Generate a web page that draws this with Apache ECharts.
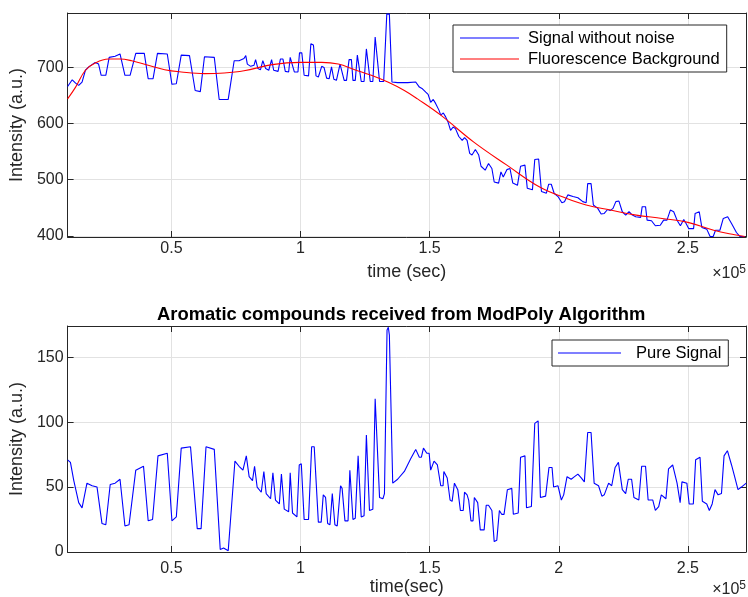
<!DOCTYPE html>
<html><head><meta charset="utf-8">
<script src="https://cdn.jsdelivr.net/npm/echarts@6/dist/echarts.min.js"></script>
<style>html,body{margin:0;padding:0;background:#fff}#c{width:748px;height:597px}</style>
</head><body><div id="c"></div>
<script>
// ---- data (time in seconds, intensity in a.u.) ----
const xTicks = [50000, 100000, 150000, 200000, 250000];
const topYTicks = [400, 500, 600, 700];
const botYTicks = [0, 50, 100, 150];
const seriesNames = ['Signal without noise', 'Fluorescence Background', 'Pure Signal'];
const titleText = 'Aromatic compounds received from ModPoly Algorithm';

const signalPts = [[9800,666],[11600,678],[12900,672],[14100,668],[15400,674],[16700,695],[18000,701],[20500,709],[21800,706],[22800,686],[24600,686],[25900,718],[28200,720],[30100,724],[32000,686],[34000,686],[36200,725],[39500,725],[41000,680],[42900,680],[44600,725],[48400,724],[50200,670],[51900,671],[53800,722],[57000,721],[59200,659],[61200,657],[62800,719],[66600,718],[68500,643],[72000,643],[74300,712],[76200,712],[78100,716],[78800,721],[79400,706],[80700,702],[82000,704],[82600,714],[83500,698],[84500,696],[85400,712],[86500,698],[87700,695],[88800,714],[89600,695],[91300,693],[92200,715],[93200,715],[94100,693],[95400,692],[96000,718],[96700,718],[97600,692],[99000,692],[99600,726],[100500,726],[101400,686],[103100,685],[104000,742],[105000,740],[106000,685],[106900,683],[108200,702],[109100,700],[110100,681],[111100,680],[112000,701],[112900,679],[113900,677],[115300,706],[115900,706],[116900,677],[117800,677],[118800,714],[119700,714],[120300,677],[121200,677],[122000,722],[122500,722],[123500,675],[124600,675],[125500,733],[126100,733],[127000,675],[128000,675],[128900,754],[129600,754],[130600,675],[132200,675],[133400,795],[134400,795],[135400,674],[137600,673],[141500,673],[144600,674],[146000,665],[147200,662],[148500,656],[149400,652],[150400,638],[151400,643],[152300,636],[153600,624],[154300,615],[155300,619],[156200,612],[157100,603],[158100,588],[159100,594],[160000,591],[161300,577],[162600,570],[163500,575],[164500,570],[165500,547],[166400,544],[167700,554],[169000,544],[169900,524],[171500,517],[172800,529],[174100,520],[175000,496],[176700,494],[177600,514],[178500,505],[179900,518],[181100,520],[182200,494],[184000,490],[185200,524],[186900,526],[187800,485],[189800,482],[190700,536],[192200,537],[193300,479],[195200,476],[196100,492],[197100,492],[198200,476],[199700,470],[201200,459],[202200,461],[203500,473],[205500,470],[207400,468],[209300,461],[210600,459],[211200,493],[212500,493],[213400,455],[215100,449],[216400,439],[217600,440],[218900,447],[219900,445],[221000,449],[222100,461],[223300,462],[224600,443],[225900,437],[227200,443],[228500,437],[229800,434],[231700,433],[232300,452],[233600,452],[234200,428],[235900,427],[237400,418],[239300,419],[240600,428],[241900,428],[243200,446],[244500,443],[245800,428],[247100,418],[248400,429],[249300,422],[250300,413],[252200,413],[252800,440],[254400,443],[255400,415],[257300,412],[258600,399],[259800,399],[260700,410],[262400,410],[263700,431],[265400,434],[266900,422],[268800,406],[270100,399],[272000,399]];

const backgroundPts = [[9800,644],[12900,665],[16700,695],[20500,708],[25600,715],[30100,715],[34600,712],[41000,704],[47400,696],[53800,692],[62800,689],[70400,690],[78100,694],[89000,705],[99900,709],[108200,709],[114600,706],[121000,696],[127400,686],[133800,674],[140200,659],[145300,644],[154300,615],[167100,567],[179900,526],[192600,487],[202900,467],[210600,455],[220000,446],[230000,437],[240000,431],[250000,424],[260000,410],[268100,402],[272000,399]];

const purePts = [[9800,71],[10900,69],[12200,55],[14100,38],[15400,34],[17300,53],[19300,51],[21200,50],[23100,22],[24600,21],[26300,52],[28200,53],[30100,56],[32000,20],[33600,21],[36200,63],[39200,66],[41000,24],[42700,25],[44800,74],[48400,76],[50200,24],[51900,27],[53800,80],[57400,81],[60000,18],[61500,18],[63400,81],[66600,79],[68900,2],[70200,3],[72000,1],[74600,70],[76200,66],[77700,63],[79000,74],[80100,58],[81400,55],[82200,66],[83200,50],[84800,46],[85800,62],[86700,45],[88400,41],[89300,61],[90300,40],[91800,37],[92600,60],[93700,33],[95400,31],[96000,61],[96900,30],[98600,27],[99500,67],[100300,68],[101400,25],[103100,25],[104300,81],[105300,81],[106900,23],[108000,23],[108800,44],[109700,42],[110500,22],[111400,21],[112300,45],[113300,21],[114200,20],[115500,51],[116100,49],[117200,24],[118400,24],[119100,63],[119700,63],[120300,25],[121200,26],[122300,74],[122800,74],[123500,27],[124600,28],[125500,90],[125800,89],[126700,32],[128000,33],[128900,118],[129400,118],[130600,42],[131900,41],[132500,45],[133500,171],[134000,173],[134400,167],[135700,53],[137600,56],[140200,62],[142700,72],[144600,79],[146000,73],[146800,73],[147600,80],[148900,76],[149800,76],[150400,63],[151100,63],[151700,70],[153000,67],[154300,51],[155200,51],[155500,62],[156800,57],[157900,40],[158700,39],[159600,53],[160900,48],[161900,32],[163000,32],[163500,46],[164500,44],[165100,40],[166000,24],[166800,24],[167300,42],[168600,38],[169600,17],[171100,17],[171900,36],[172800,36],[174100,32],[175000,8],[176000,9],[177000,32],[177900,29],[178800,29],[180100,48],[181800,49],[182400,29],[184300,30],[185200,73],[186900,74],[187500,34],[189400,35],[190700,99],[192000,101],[192900,42],[194900,43],[196200,65],[197400,65],[198000,50],[199700,51],[201000,40],[201900,44],[203200,58],[204800,56],[206100,58],[207400,60],[208700,57],[209900,54],[211200,92],[212500,92],[213700,53],[215400,51],[216700,43],[217600,44],[219300,53],[220500,51],[221800,65],[223100,69],[224600,48],[225900,45],[226900,56],[228200,56],[229100,42],[231000,40],[232100,66],[233600,66],[234600,40],[236400,40],[237400,32],[238700,35],[239700,44],[241500,41],[242500,64],[244100,67],[245800,53],[247000,38],[247700,54],[249600,53],[250500,37],[252100,37],[253000,71],[254700,73],[255600,39],[257300,37],[258300,32],[259400,37],[260500,48],[261700,44],[263000,45],[264000,74],[265300,78],[266900,67],[268100,58],[269400,48],[270700,50],[272600,53]];

// ---- styling ----
const FONT = '"Liberation Sans", Arial, Helvetica, sans-serif';
const AX = '#262626';
const GRIDC = '#e2e2e2';
const X_MIN = 9800, X_MAX = 272500;

function xAxis(gridIndex, pos, name, nameGap, labelMargin) {
  const bottom = pos === 'bottom';
  return {
    type: 'value', gridIndex, position: pos, min: X_MIN, max: X_MAX,
    name: bottom ? name : '', nameLocation: 'middle', nameGap,
    nameTextStyle: { fontFamily: FONT, fontSize: 18, color: AX },
    axisLine: { show: true, onZero: false, lineStyle: { color: AX, width: 1 } },
    axisTick: { show: true, inside: true, length: 6, customValues: xTicks, lineStyle: { color: AX } },
    axisLabel: { show: bottom, customValues: xTicks, margin: labelMargin, color: AX, fontFamily: FONT, fontSize: 16,
      formatter: v => String(+(v / 1e5).toFixed(2)) },
    splitLine: { show: bottom, lineStyle: { color: GRIDC, width: 1 } }
  };
}
function yAxis(gridIndex, pos, min, max, ticks, nameGap) {
  const left = pos === 'left';
  return {
    type: 'value', gridIndex, position: pos, min, max,
    name: left ? 'Intensity (a.u.)' : '', nameLocation: 'middle', nameGap,
    nameTextStyle: { fontFamily: FONT, fontSize: 18, color: AX },
    axisLine: { show: true, onZero: false, lineStyle: { color: AX, width: 1 } },
    axisTick: { show: true, inside: true, length: 6, customValues: ticks, lineStyle: { color: AX } },
    axisLabel: { show: left, customValues: ticks, margin: 4, color: AX, fontFamily: FONT, fontSize: 16 },
    splitLine: { show: left, lineStyle: { color: GRIDC, width: 1 } }
  };
}

const legendText = { fontFamily: FONT, fontSize: 16.5, color: '#000', lineHeight: 18 };

const option = {
  animation: false,
  backgroundColor: '#fff',
  title: {
    text: titleText, left: 152, top: 301,
    textStyle: { fontFamily: FONT, fontSize: 18.4, fontWeight: 'bold', color: '#000' }
  },
  grid: [
    { left: 62, top: 13, width: 684, height: 224 },
    { left: 62, top: 326, width: 684, height: 226 }
  ],
  xAxis: [
    xAxis(0, 'bottom', 'time (sec)', 26, 4),
    xAxis(0, 'top', '', 0, 0),
    xAxis(1, 'bottom', 'time(sec)', 20, 9),
    xAxis(1, 'top', '', 0, 0)
  ],
  yAxis: [
    yAxis(0, 'left', 398, 797, topYTicks, 31),
    yAxis(0, 'right', 398, 797, topYTicks, 0),
    yAxis(1, 'left', 0, 174, botYTicks, 31),
    yAxis(1, 'right', 0, 174, botYTicks, 0)
  ],
  legend: [
    {
      data: [
        { name: seriesNames[0], icon: 'rect', itemStyle: { color: '#0000ff' } },
        { name: seriesNames[1], icon: 'rect', itemStyle: { color: '#ff0000' } }
      ],
      orient: 'vertical', left: 453, top: 25,
      padding: [4, 7, 4, 7], itemGap: 3, itemWidth: 59, itemHeight: 1,
      borderColor: AX, borderWidth: 1, backgroundColor: '#fff',
      textStyle: Object.assign({ padding: [0, 0, 0, 4] }, legendText)
    },
    {
      data: [ { name: seriesNames[2], icon: 'rect', itemStyle: { color: '#0000ff' } } ],
      orient: 'vertical', left: 552, top: 340,
      padding: [4, 7, 4, 6], itemWidth: 63, itemHeight: 1,
      borderColor: AX, borderWidth: 1, backgroundColor: '#fff',
      textStyle: Object.assign({ padding: [0, 0, 0, 10] }, legendText)
    }
  ],
  series: [
    { name: seriesNames[0], type: 'line', xAxisIndex: 0, yAxisIndex: 0, data: signalPts,
      symbol: 'none', lineStyle: { color: '#0000ff', width: 1.1 }, itemStyle: { color: '#0000ff' }, z: 3 },
    { name: seriesNames[1], type: 'line', xAxisIndex: 0, yAxisIndex: 0, data: backgroundPts, smooth: 0.4,
      symbol: 'none', lineStyle: { color: '#ff0000', width: 1.1 }, itemStyle: { color: '#ff0000' }, z: 4 },
    { name: seriesNames[2], type: 'line', xAxisIndex: 2, yAxisIndex: 2, data: purePts,
      symbol: 'none', lineStyle: { color: '#0000ff', width: 1.1 }, itemStyle: { color: '#0000ff' }, z: 3 }
  ],
  graphic: [
    { type: 'text', right: 2, top: 264, style: { text: '×10{s|5}', fontFamily: FONT, fontSize: 16, fill: AX,
      rich: { s: { fontSize: 12, verticalAlign: 'top', padding: [0, 0, 8, 0] } } } },
    { type: 'text', right: 2, top: 580, style: { text: '×10{s|5}', fontFamily: FONT, fontSize: 16, fill: AX,
      rich: { s: { fontSize: 12, verticalAlign: 'top', padding: [0, 0, 8, 0] } } } }
  ]
};

const chart = echarts.init(document.getElementById('c'), null, { renderer: 'canvas' });
chart.setOption(option);
</script>
</body></html>
